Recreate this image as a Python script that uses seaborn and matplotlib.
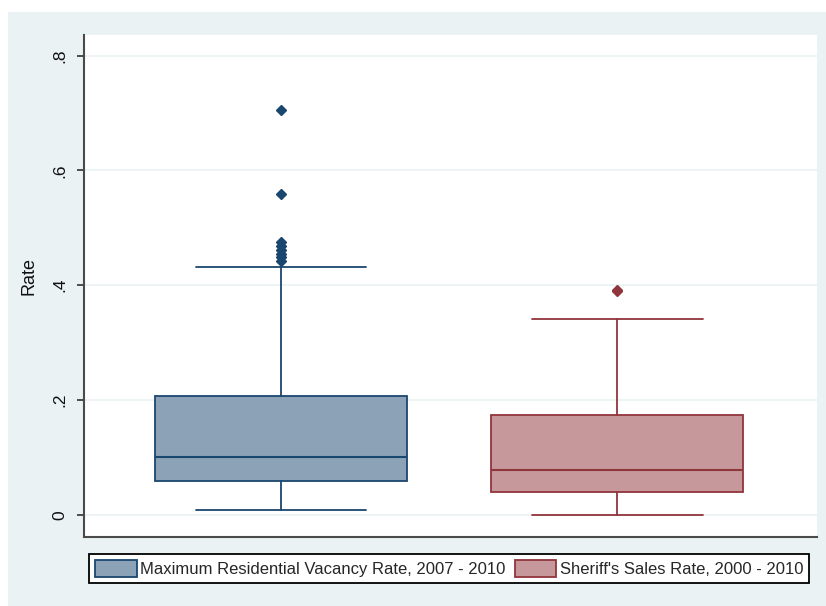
import matplotlib
matplotlib.use("Agg")
import matplotlib.pyplot as plt
from matplotlib.patches import Rectangle, Patch
import seaborn as sns

# Five-number summaries and outside values for each series
series = ["Maximum Residential Vacancy Rate, 2007 - 2010",
          "Sheriff's Sales Rate, 2000 - 2010"]
lower_whisker = [0.0075, 0.0]
q1 = [0.058, 0.039]
median = [0.1006, 0.078]
q3 = [0.206, 0.174]
upper_whisker = [0.432, 0.3416]
outliers_vacancy = [0.706, 0.5595, 0.476, 0.469, 0.462, 0.455, 0.449, 0.443]
outliers_sheriff = [0.389, 0.392]

tick_values = [0, 0.2, 0.4, 0.6, 0.8]
tick_labels = ["0", ".2", ".4", ".6", ".8"]

fill_colors = ["#8CA2B7", "#C7989B"]
edge_colors = ["#1A476F", "#90353B"]

sns.set_style("white")
plt.rcParams["font.family"] = ["Liberation Sans", "DejaVu Sans"]

W, H = 826, 606
fig = plt.figure(figsize=(W / 100, H / 100), dpi=100)
fig.patch.set_facecolor("white")
fig.add_artist(Rectangle((8 / W, 0), 1 - 8 / W, 1 - 12 / H,
                         transform=fig.transFigure, facecolor="#EAF2F3",
                         edgecolor="none", zorder=0))

ax = fig.add_axes([84 / W, 1 - 536.5 / H, 733 / W, 501.5 / H])
ax.set_facecolor("white")

positions = [0.2688, 0.7278]
box_width = 0.3438
cap_width = 0.232
fliers = [outliers_vacancy, outliers_sheriff]

for i in range(2):
    stats = [dict(med=median[i], q1=q1[i], q3=q3[i],
                  whislo=lower_whisker[i], whishi=upper_whisker[i],
                  fliers=fliers[i], label=series[i])]
    ec = edge_colors[i]
    ax.bxp(stats, positions=[positions[i]], widths=box_width,
           capwidths=cap_width, patch_artist=True, manage_ticks=False,
           boxprops=dict(facecolor=fill_colors[i], edgecolor=ec, linewidth=1.3),
           medianprops=dict(color=ec, linewidth=1.5),
           whiskerprops=dict(color=ec, linewidth=1.3),
           capprops=dict(color=ec, linewidth=1.3),
           flierprops=dict(marker="D", markerfacecolor=ec, markeredgecolor=ec,
                           markersize=5))

ax.set_xlim(0, 1)
ax.set_ylim(-0.038, 0.836)
ax.set_xticks([])
ax.set_yticks(tick_values)
ax.set_yticklabels(tick_labels, rotation=90, va="center", fontsize=12.5)
ax.tick_params(axis="y", length=5, width=1.1, color="#222222", pad=7,
               left=True, labelcolor="#111111")

ax.yaxis.grid(True, color="#EAF2F3", linewidth=1.2)
ax.xaxis.grid(False)
ax.set_axisbelow(True)

for side in ["top", "right"]:
    ax.spines[side].set_visible(False)
for side in ["left", "bottom"]:
    ax.spines[side].set_color("#4A4A4A")
    ax.spines[side].set_linewidth(1.5)

ax.set_ylabel("Rate", fontsize=13, color="#111111")
ax.yaxis.set_label_coords(-0.063, 0.52)

handles = [Patch(facecolor=fill_colors[i], edgecolor=edge_colors[i],
                 linewidth=1.3, label=series[i]) for i in range(2)]
leg = fig.legend(handles=handles, loc="center", ncol=2,
                 bbox_to_anchor=(449 / W, 1 - 568.5 / H),
                 fontsize=12, frameon=True, fancybox=False,
                 handlelength=2.5, handleheight=1.25, handletextpad=0.2,
                 columnspacing=0.55, borderpad=0.35)
frame = leg.get_frame()
frame.set_edgecolor("black")
frame.set_linewidth(1.3)
frame.set_facecolor("white")
frame.set_alpha(1)

fig.savefig("out.png", dpi=100)
